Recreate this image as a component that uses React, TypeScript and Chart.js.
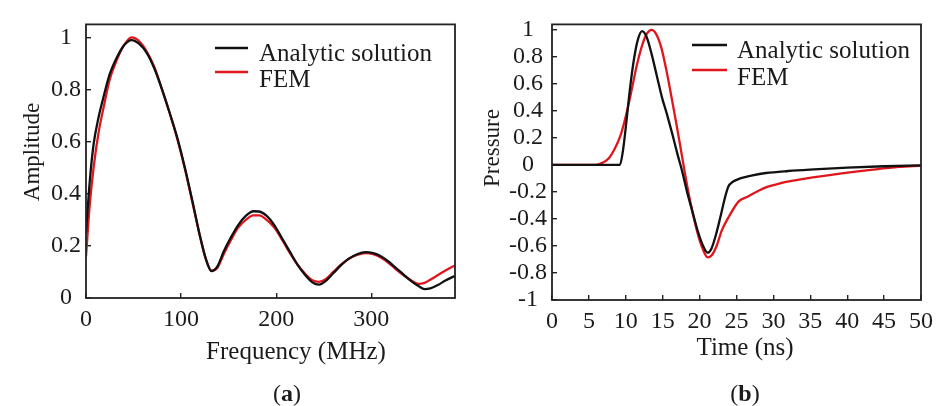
import { useEffect, useRef } from 'react';
import { Chart, registerables } from 'chart.js';

Chart.register(...registerables);

// ---- (a) spectrum: amplitude vs frequency ----
const frequencyMHz = [0, 4, 8, 13, 19, 25, 32, 40, 48, 56, 64, 72, 80, 88, 96, 104, 112, 120, 126, 132, 138, 145, 152, 160, 168, 176, 182, 190, 198, 206, 214, 222, 230, 238, 245, 252, 260, 268, 276, 285, 294, 302, 310, 318, 326, 334, 342, 350, 356, 362, 370, 378, 388];
const amplitudeAnalytic = [0.25, 0.45, 0.59, 0.69, 0.78, 0.86, 0.92, 0.97, 0.99, 0.975, 0.94, 0.88, 0.8, 0.71, 0.615, 0.5, 0.37, 0.235, 0.15, 0.103, 0.12, 0.18, 0.23, 0.28, 0.315, 0.333, 0.332, 0.315, 0.28, 0.23, 0.18, 0.13, 0.09, 0.06, 0.051, 0.065, 0.095, 0.125, 0.15, 0.168, 0.176, 0.172, 0.16, 0.14, 0.115, 0.09, 0.065, 0.045, 0.034, 0.037, 0.05, 0.067, 0.085];
const amplitudeFem = [0.16, 0.36, 0.5, 0.63, 0.74, 0.84, 0.91, 0.97, 1.0, 0.985, 0.945, 0.885, 0.8, 0.71, 0.61, 0.495, 0.365, 0.235, 0.15, 0.105, 0.115, 0.17, 0.22, 0.27, 0.3, 0.317, 0.317, 0.3, 0.27, 0.225, 0.175, 0.13, 0.095, 0.068, 0.062, 0.072, 0.1, 0.128, 0.15, 0.165, 0.172, 0.168, 0.155, 0.135, 0.11, 0.087, 0.067, 0.054, 0.058, 0.07, 0.088, 0.106, 0.125];
const frequencyTicks = [0, 100, 200, 300];
const amplitudeTicks = [0, 0.2, 0.4, 0.6, 0.8, 1];

// ---- (b) pulse: pressure vs time ----
const timeAnalytic = [0, 5, 9.2, 9.6, 10.1, 10.6, 11.1, 11.6, 12.2, 12.8, 13.5, 14.2, 14.9, 15.6, 16.3, 17.0, 17.6, 18.3, 19.0, 19.7, 20.4, 21.1, 21.6, 22.2, 22.8, 23.4, 23.9, 24.5, 25.5, 27, 29, 32, 35.5, 40, 45, 50];
const pressureAnalytic = [0, 0, 0, 0.1, 0.33, 0.58, 0.78, 0.92, 0.99, 0.95, 0.82, 0.66, 0.5, 0.37, 0.23, 0.08, -0.04, -0.2, -0.34, -0.48, -0.59, -0.65, -0.62, -0.52, -0.39, -0.25, -0.16, -0.125, -0.1, -0.08, -0.06, -0.045, -0.033, -0.02, -0.01, -0.004];
const timeFem = [0, 5.9, 6.8, 7.7, 8.5, 9.3, 10.0, 10.7, 11.5, 12.3, 12.9, 13.5, 14.1, 14.8, 15.5, 16.2, 16.9, 17.6, 18.3, 19.0, 19.7, 20.4, 21.1, 21.7, 22.3, 23.0, 24.0, 25.3, 26.5, 28.9, 31, 34.5, 39, 43.5, 47, 50];
const pressureFem = [0, 0, 0.015, 0.05, 0.12, 0.22, 0.36, 0.53, 0.74, 0.9, 0.975, 1.0, 0.97, 0.87, 0.7, 0.5, 0.29, 0.07, -0.15, -0.34, -0.5, -0.62, -0.685, -0.665, -0.6, -0.486, -0.38, -0.27, -0.235, -0.168, -0.135, -0.1, -0.065, -0.035, -0.015, -0.005];
const timeTicks = [0, 5, 10, 15, 20, 25, 30, 35, 40, 45, 50];
const pressureTicks = [-1, -0.8, -0.6, -0.4, -0.2, 0, 0.2, 0.4, 0.6, 0.8, 1];

const seriesNames = ['Analytic solution', 'FEM'];
const seriesColors = ['#111111', '#e0161c'];

const SERIF = '"Liberation Serif", "Times New Roman", serif';
const INK = '#1b1b1b';

type Area = { left: number; top: number; right: number; bottom: number };
type PanelSpec = {
  left: number;
  width: number;
  height: number;
  area: Area;
  xMax: number;
  yMin: number;
  yMax: number;
  xTicks: number[];
  yTicks: number[];
  xTitle: string;
  yTitle: string;
  xTitleAt: [number, number];
  yTitleAt: [number, number];
  legend: { lineX0: number; lineX1: number; lineY: number[]; textX: number; textY: number[] };
  series: { x: number[]; y: number[] }[];
};

const panels: PanelSpec[] = [
  {
    left: 0,
    width: 480,
    height: 406,
    area: { left: 86, top: 23, right: 455, bottom: 298 },
    xMax: 388,
    yMin: 0,
    yMax: 1.05,
    xTicks: frequencyTicks,
    yTicks: amplitudeTicks,
    xTitle: 'Frequency (MHz)',
    yTitle: 'Amplitude',
    xTitleAt: [296, 352],
    yTitleAt: [33, 152],
    legend: { lineX0: 215, lineX1: 248, lineY: [48, 72], textX: 259, textY: [61, 87] },
    series: [
      { x: frequencyMHz, y: amplitudeAnalytic },
      { x: frequencyMHz, y: amplitudeFem },
    ],
  },
  {
    left: 480,
    width: 465,
    height: 406,
    area: { left: 72, top: 22, right: 442, bottom: 300 },
    xMax: 50,
    yMin: -1,
    yMax: 1.04,
    xTicks: timeTicks,
    yTicks: pressureTicks,
    xTitle: 'Time (ns)',
    yTitle: 'Pressure',
    xTitleAt: [265, 348],
    yTitleAt: [13, 148],
    legend: { lineX0: 212, lineX1: 247, lineY: [45, 70], textX: 257, textY: [58, 85] },
    series: [
      { x: timeAnalytic, y: pressureAnalytic },
      { x: timeFem, y: pressureFem },
    ],
  },
];

function framePlugin() {
  return {
    id: 'frame',
    afterDraw(chart: Chart) {
      const { ctx, chartArea: a } = chart;
      ctx.save();
      ctx.strokeStyle = '#222';
      ctx.lineWidth = 1.8;
      ctx.strokeRect(a.left, a.top, a.right - a.left, a.bottom - a.top);
      ctx.restore();
    },
  };
}

function labelsPlugin(spec: PanelSpec) {
  return {
    id: 'panelLabels',
    afterDraw(chart: Chart) {
      const { ctx } = chart;
      ctx.save();
      ctx.fillStyle = INK;
      ctx.textAlign = 'center';
      ctx.textBaseline = 'middle';
      // axis titles
      ctx.font = `25px ${SERIF}`;
      ctx.fillText(spec.xTitle, spec.xTitleAt[0], spec.xTitleAt[1]);
      ctx.save();
      ctx.translate(spec.yTitleAt[0], spec.yTitleAt[1]);
      ctx.rotate(-Math.PI / 2);
      ctx.font = `23px ${SERIF}`;
      ctx.fillText(spec.yTitle, 0, 0);
      ctx.restore();
      // legend
      const lg = spec.legend;
      chart.data.datasets.forEach((ds, i) => {
        ctx.strokeStyle = ds.borderColor as string;
        ctx.lineWidth = 2.4;
        ctx.beginPath();
        ctx.moveTo(lg.lineX0, lg.lineY[i]);
        ctx.lineTo(lg.lineX1, lg.lineY[i]);
        ctx.stroke();
        ctx.font = `25px ${SERIF}`;
        ctx.textAlign = 'left';
        ctx.textBaseline = 'alphabetic';
        ctx.fillStyle = INK;
        ctx.fillText(ds.label as string, lg.textX, lg.textY[i]);
      });
      ctx.restore();
    },
  };
}

function Panel({ spec }: { spec: PanelSpec }) {
  const ref = useRef<HTMLCanvasElement | null>(null);

  useEffect(() => {
    const canvas = ref.current;
    if (!canvas) return;
    const a = spec.area;
    const tickFont = { family: SERIF, size: 24 };
    const gridStyle = {
      display: true,
      drawOnChartArea: false,
      drawTicks: true,
      tickLength: -5,
      color: '#222',
      lineWidth: 1.4,
    };

    const chart = new Chart(canvas, {
      type: 'line',
      data: {
        datasets: spec.series.map((s, i) => ({
          label: seriesNames[i],
          data: s.x.map((x, k) => ({ x, y: s.y[k] })),
          borderColor: seriesColors[i],
          backgroundColor: seriesColors[i],
          borderWidth: 2.3,
          pointRadius: 0,
          fill: false,
          cubicInterpolationMode: 'monotone' as const,
        })),
      },
      options: {
        responsive: false,
        animation: false,
        devicePixelRatio: 1,
        layout: {
          padding: { left: 0, top: a.top, right: spec.width - a.right, bottom: 0 },
        },
        plugins: {
          legend: { display: false },
          tooltip: { enabled: false },
        },
        scales: {
          x: {
            type: 'linear',
            min: 0,
            max: spec.xMax,
            border: { display: false },
            grid: gridStyle,
            ticks: {
              font: tickFont,
              color: INK,
              padding: 12,
              autoSkip: false,
              maxRotation: 0,
              callback: (v) => String(v),
            },
            afterBuildTicks: (scale) => {
              scale.ticks = spec.xTicks.map((value) => ({ value }));
            },
            afterFit: (scale) => {
              scale.height = spec.height - a.bottom;
            },
          },
          y: {
            type: 'linear',
            min: spec.yMin,
            max: spec.yMax,
            border: { display: false },
            grid: gridStyle,
            ticks: {
              font: tickFont,
              color: INK,
              padding: 10,
              crossAlign: 'center',
              autoSkip: false,
              callback: (v) => String(v),
            },
            afterBuildTicks: (scale) => {
              scale.ticks = spec.yTicks.map((value) => ({ value }));
            },
            afterFit: (scale) => {
              scale.width = a.left;
            },
          },
        },
      },
      plugins: [framePlugin(), labelsPlugin(spec)],
    });

    return () => chart.destroy();
  }, [spec]);

  return (
    <canvas
      ref={ref}
      width={spec.width}
      height={spec.height}
      style={{ position: 'absolute', left: spec.left, top: 0, width: spec.width, height: spec.height, display: 'block' }}
    />
  );
}

const captionStyle = {
  position: 'absolute' as const,
  top: 379,
  width: 100,
  textAlign: 'center' as const,
  fontFamily: SERIF,
  fontSize: 24,
  lineHeight: '28px',
  color: INK,
};

export default function App() {
  return (
    <div style={{ position: 'fixed', left: 0, top: 0, width: 945, height: 406, background: '#fff', overflow: 'hidden' }}>
      {panels.map((p, i) => (
        <Panel key={i} spec={p} />
      ))}
      <div style={{ ...captionStyle, left: 237 }}>
        (<b>a</b>)
      </div>
      <div style={{ ...captionStyle, left: 695 }}>
        (<b>b</b>)
      </div>
    </div>
  );
}
